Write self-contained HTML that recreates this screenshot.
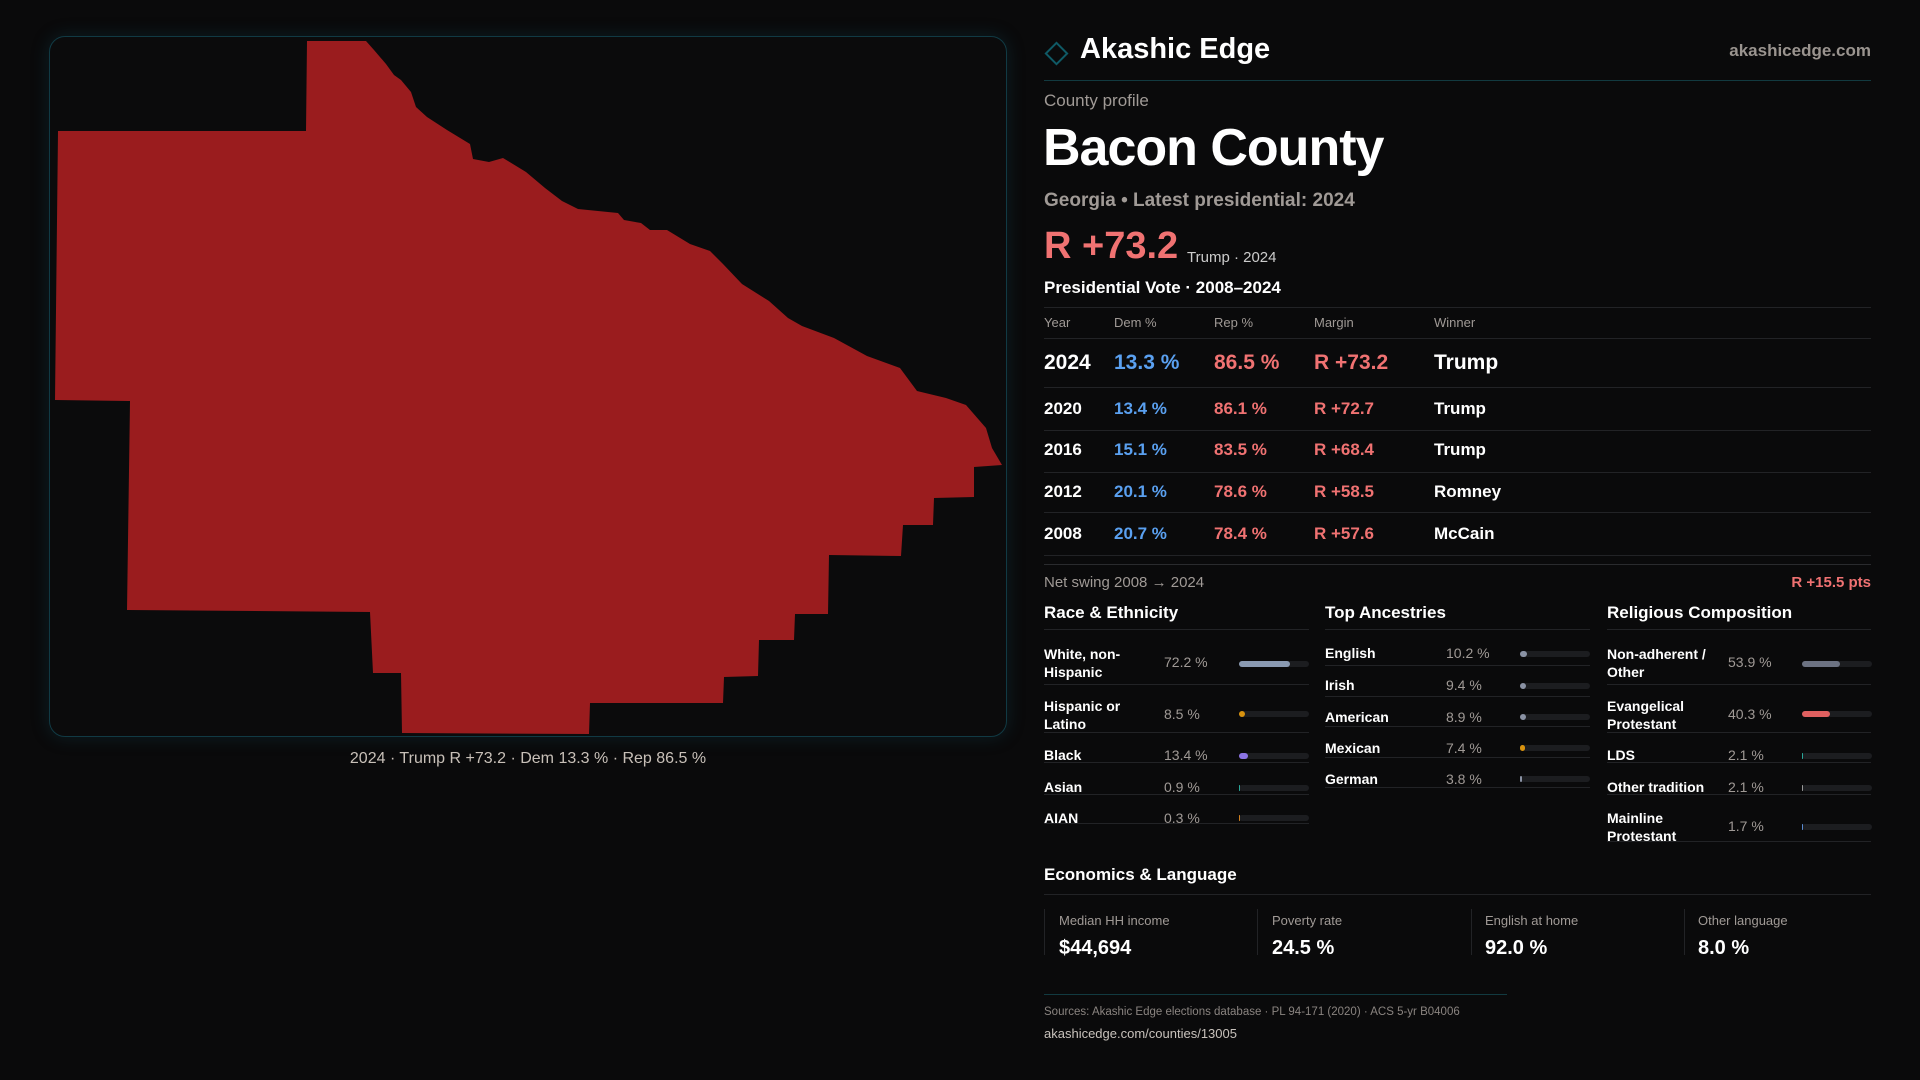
<!DOCTYPE html>
<html><head><meta charset="utf-8">
<style>
*{margin:0;padding:0;box-sizing:border-box}
body{width:1920px;height:1080px;background:#0a0a0b;font-family:"Liberation Sans",sans-serif;color:#fff;position:relative;overflow:hidden}
.a{position:absolute;white-space:nowrap;line-height:1}
.g{color:#a09a96}
.r{color:#f07272}
.b{color:#5aa0f0}
.hl{position:absolute;height:1px;background:#222326}
.bar{position:absolute;height:6px;border-radius:3px;background:#1c1d20;width:70px}
.bar i{position:absolute;left:0;top:0;height:6px;border-radius:3px;display:block}
</style></head><body>
<div style="position:absolute;left:49px;top:36px;width:958px;height:701px;border:1px solid #113a44;border-radius:16px;background:#0b0b0c;box-shadow:0 0 18px rgba(20,90,110,.25)"></div>
<svg style="position:absolute;left:0;top:0" width="1030" height="780">
<polygon fill="#9a1c1e" points="307,41 366,41 374,50 386,64 394,75 401,80 411,92 416,107 427,117 447,130 470,144 473,159 489,162 503,158 526,172 545,188 562,201 578,209 618,213 624,220 641,223 650,230 667,230 690,244 710,251 723,264 742,284 769,301 788,318 802,326 834,338 867,356 900,368 917,391 946,398 966,405 986,428 992,448 1002,465 974,467 974,497 934,498 933,525 903,525 901,556 829,555 828,614 795,614 794,640 759,640 758,676 724,677 723,703 590,703 589,734 402,733 401,673 373,673 370,612 127,610 130,401 55,400 58,131 306,131"/>
</svg>
<div class="a" style="left:0;width:1056px;text-align:center;top:751px;font-size:16px;color:#c8c0b8">2024 · Trump R +73.2 · Dem 13.3 % · Rep 86.5 %</div>

<div style="position:absolute;left:1048px;top:45px;width:17px;height:17px;border:2px solid #0f5a66;transform:rotate(45deg)"></div>
<div class="a" style="left:1080px;top:35px;font-size:29px;font-weight:bold">Akashic Edge</div>
<div class="a g" style="right:49px;top:42px;font-size:17px;font-weight:bold;color:#9a948f">akashicedge.com</div>
<div class="hl" style="left:1044px;width:827px;top:80px;background:#123a40"></div>
<div class="a g" style="left:1044px;top:92px;font-size:17px">County profile</div>
<div class="a" style="left:1043px;top:122px;font-size:52px;font-weight:bold;letter-spacing:-1px">Bacon County</div>
<div class="a g" style="left:1044px;top:191px;font-size:19px;font-weight:bold">Georgia • Latest presidential: 2024</div>
<div class="a r" style="left:1044px;top:227px;font-size:38px;font-weight:bold">R +73.2</div>
<div class="a" style="left:1187px;top:250px;font-size:15px;color:#ccc">Trump · 2024</div>
<div class="a" style="left:1044px;top:279px;font-size:17px;font-weight:bold">Presidential Vote · 2008–2024</div>
<div class="hl" style="left:1044px;width:827px;top:307px"></div>
<div class="a g" style="left:1044px;top:316px;font-size:13px">Year</div>
<div class="a g" style="left:1114px;top:316px;font-size:13px">Dem %</div>
<div class="a g" style="left:1214px;top:316px;font-size:13px">Rep %</div>
<div class="a g" style="left:1314px;top:316px;font-size:13px">Margin</div>
<div class="a g" style="left:1434px;top:316px;font-size:13px">Winner</div>
<div class="hl" style="left:1044px;width:827px;top:338px"></div>
<div class="a" style="left:1044px;top:352px;font-size:21px;font-weight:bold">2024</div>
<div class="a b" style="left:1114px;top:352px;font-size:21px;font-weight:bold">13.3 %</div>
<div class="a r" style="left:1214px;top:352px;font-size:21px;font-weight:bold">86.5 %</div>
<div class="a r" style="left:1314px;top:352px;font-size:21px;font-weight:bold">R +73.2</div>
<div class="a" style="left:1434px;top:352px;font-size:21px;font-weight:bold">Trump</div>
<div class="hl" style="left:1044px;width:827px;top:387px"></div>
<div class="a" style="left:1044px;top:400px;font-size:17px;font-weight:bold">2020</div>
<div class="a b" style="left:1114px;top:400px;font-size:17px;font-weight:bold">13.4 %</div>
<div class="a r" style="left:1214px;top:400px;font-size:17px;font-weight:bold">86.1 %</div>
<div class="a r" style="left:1314px;top:400px;font-size:17px;font-weight:bold">R +72.7</div>
<div class="a" style="left:1434px;top:400px;font-size:17px;font-weight:bold">Trump</div>
<div class="hl" style="left:1044px;width:827px;top:430px"></div>
<div class="a" style="left:1044px;top:441px;font-size:17px;font-weight:bold">2016</div>
<div class="a b" style="left:1114px;top:441px;font-size:17px;font-weight:bold">15.1 %</div>
<div class="a r" style="left:1214px;top:441px;font-size:17px;font-weight:bold">83.5 %</div>
<div class="a r" style="left:1314px;top:441px;font-size:17px;font-weight:bold">R +68.4</div>
<div class="a" style="left:1434px;top:441px;font-size:17px;font-weight:bold">Trump</div>
<div class="hl" style="left:1044px;width:827px;top:472px"></div>
<div class="a" style="left:1044px;top:483px;font-size:17px;font-weight:bold">2012</div>
<div class="a b" style="left:1114px;top:483px;font-size:17px;font-weight:bold">20.1 %</div>
<div class="a r" style="left:1214px;top:483px;font-size:17px;font-weight:bold">78.6 %</div>
<div class="a r" style="left:1314px;top:483px;font-size:17px;font-weight:bold">R +58.5</div>
<div class="a" style="left:1434px;top:483px;font-size:17px;font-weight:bold">Romney</div>
<div class="hl" style="left:1044px;width:827px;top:512px"></div>
<div class="a" style="left:1044px;top:525px;font-size:17px;font-weight:bold">2008</div>
<div class="a b" style="left:1114px;top:525px;font-size:17px;font-weight:bold">20.7 %</div>
<div class="a r" style="left:1214px;top:525px;font-size:17px;font-weight:bold">78.4 %</div>
<div class="a r" style="left:1314px;top:525px;font-size:17px;font-weight:bold">R +57.6</div>
<div class="a" style="left:1434px;top:525px;font-size:17px;font-weight:bold">McCain</div>
<div class="hl" style="left:1044px;width:827px;top:555px"></div>
<div class="hl" style="left:1044px;width:827px;top:564px;background:#2a2b2e"></div>
<div class="a g" style="left:1044px;top:575px;font-size:15px">Net swing 2008 → 2024</div>
<div class="a r" style="right:49px;top:575px;font-size:15px;font-weight:bold">R +15.5 pts</div>

<div class="a" style="left:1044px;top:604px;font-size:17px;font-weight:bold">Race &amp; Ethnicity</div>
<div class="a" style="left:1325px;top:604px;font-size:17px;font-weight:bold">Top Ancestries</div>
<div class="a" style="left:1607px;top:604px;font-size:17px;font-weight:bold">Religious Composition</div>
<div class="hl" style="left:1044px;width:265px;top:629px"></div>
<div class="hl" style="left:1325px;width:265px;top:629px"></div>
<div class="hl" style="left:1607px;width:264px;top:629px"></div>

<div class="a" style="left:1044px;top:645px;font-size:14px;line-height:18px;font-weight:bold">White, non-<br>Hispanic</div>
<div class="a g" style="left:1164px;top:655px;font-size:14px">72.2 %</div>
<div class="bar" style="left:1239px;top:661px"><i style="width:51px;background:#8a9ab2"></i></div>
<div class="hl" style="left:1044px;width:265px;top:684px"></div>
<div class="a" style="left:1044px;top:697px;font-size:14px;line-height:18px;font-weight:bold">Hispanic or<br>Latino</div>
<div class="a g" style="left:1164px;top:707px;font-size:14px">8.5 %</div>
<div class="bar" style="left:1239px;top:711px"><i style="width:6px;background:#d8920e"></i></div>
<div class="hl" style="left:1044px;width:265px;top:732px"></div>
<div class="a" style="left:1044px;top:748px;font-size:14px;font-weight:bold">Black</div>
<div class="a g" style="left:1164px;top:748px;font-size:14px">13.4 %</div>
<div class="bar" style="left:1239px;top:753px"><i style="width:9px;background:#8c74e4"></i></div>
<div class="hl" style="left:1044px;width:265px;top:762px"></div>
<div class="a" style="left:1044px;top:780px;font-size:14px;font-weight:bold">Asian</div>
<div class="a g" style="left:1164px;top:780px;font-size:14px">0.9 %</div>
<div class="bar" style="left:1239px;top:785px"><i style="width:1px;background:#2aa89a"></i></div>
<div class="hl" style="left:1044px;width:265px;top:794px"></div>
<div class="a" style="left:1044px;top:811px;font-size:14px;font-weight:bold">AIAN</div>
<div class="a g" style="left:1164px;top:811px;font-size:14px">0.3 %</div>
<div class="bar" style="left:1239px;top:815px"><i style="width:1px;background:#d08020"></i></div>
<div class="hl" style="left:1044px;width:265px;top:823px"></div>

<div class="a" style="left:1325px;top:646px;font-size:14px;font-weight:bold">English</div>
<div class="a g" style="left:1446px;top:646px;font-size:14px">10.2 %</div>
<div class="bar" style="left:1520px;top:651px"><i style="width:7px;background:#8a92a4"></i></div>
<div class="hl" style="left:1325px;width:265px;top:665px"></div>
<div class="a" style="left:1325px;top:678px;font-size:14px;font-weight:bold">Irish</div>
<div class="a g" style="left:1446px;top:678px;font-size:14px">9.4 %</div>
<div class="bar" style="left:1520px;top:683px"><i style="width:6px;background:#8a92a4"></i></div>
<div class="hl" style="left:1325px;width:265px;top:696px"></div>
<div class="a" style="left:1325px;top:710px;font-size:14px;font-weight:bold">American</div>
<div class="a g" style="left:1446px;top:710px;font-size:14px">8.9 %</div>
<div class="bar" style="left:1520px;top:714px"><i style="width:6px;background:#8a92a4"></i></div>
<div class="hl" style="left:1325px;width:265px;top:726px"></div>
<div class="a" style="left:1325px;top:741px;font-size:14px;font-weight:bold">Mexican</div>
<div class="a g" style="left:1446px;top:741px;font-size:14px">7.4 %</div>
<div class="bar" style="left:1520px;top:745px"><i style="width:5px;background:#d8920e"></i></div>
<div class="hl" style="left:1325px;width:265px;top:757px"></div>
<div class="a" style="left:1325px;top:772px;font-size:14px;font-weight:bold">German</div>
<div class="a g" style="left:1446px;top:772px;font-size:14px">3.8 %</div>
<div class="bar" style="left:1520px;top:776px"><i style="width:2px;background:#8a92a4"></i></div>
<div class="hl" style="left:1325px;width:265px;top:787px"></div>

<div class="a" style="left:1607px;top:645px;font-size:14px;line-height:18px;font-weight:bold">Non-adherent /<br>Other</div>
<div class="a g" style="left:1728px;top:655px;font-size:14px">53.9 %</div>
<div class="bar" style="left:1802px;top:661px"><i style="width:38px;background:#6c7282"></i></div>
<div class="hl" style="left:1607px;width:264px;top:684px"></div>
<div class="a" style="left:1607px;top:697px;font-size:14px;line-height:18px;font-weight:bold">Evangelical<br>Protestant</div>
<div class="a g" style="left:1728px;top:707px;font-size:14px">40.3 %</div>
<div class="bar" style="left:1802px;top:711px"><i style="width:28px;background:#e06060"></i></div>
<div class="hl" style="left:1607px;width:264px;top:732px"></div>
<div class="a" style="left:1607px;top:748px;font-size:14px;font-weight:bold">LDS</div>
<div class="a g" style="left:1728px;top:748px;font-size:14px">2.1 %</div>
<div class="bar" style="left:1802px;top:753px"><i style="width:1px;background:#2aa89a"></i></div>
<div class="hl" style="left:1607px;width:264px;top:762px"></div>
<div class="a" style="left:1607px;top:780px;font-size:14px;font-weight:bold">Other tradition</div>
<div class="a g" style="left:1728px;top:780px;font-size:14px">2.1 %</div>
<div class="bar" style="left:1802px;top:785px"><i style="width:1px;background:#999"></i></div>
<div class="hl" style="left:1607px;width:264px;top:794px"></div>
<div class="a" style="left:1607px;top:809px;font-size:14px;line-height:18px;font-weight:bold">Mainline<br>Protestant</div>
<div class="a g" style="left:1728px;top:819px;font-size:14px">1.7 %</div>
<div class="bar" style="left:1802px;top:824px"><i style="width:1px;background:#5a8ad0"></i></div>
<div class="hl" style="left:1607px;width:264px;top:841px"></div>

<div class="a" style="left:1044px;top:866px;font-size:17px;font-weight:bold">Economics &amp; Language</div>
<div class="hl" style="left:1044px;width:827px;top:894px"></div>
<div style="position:absolute;left:1044px;top:909px;width:1px;height:46px;background:#222326"></div>
<div style="position:absolute;left:1257px;top:909px;width:1px;height:46px;background:#222326"></div>
<div style="position:absolute;left:1471px;top:909px;width:1px;height:46px;background:#222326"></div>
<div style="position:absolute;left:1684px;top:909px;width:1px;height:46px;background:#222326"></div>
<div class="a g" style="left:1059px;top:914px;font-size:13px">Median HH income</div>
<div class="a g" style="left:1272px;top:914px;font-size:13px">Poverty rate</div>
<div class="a g" style="left:1485px;top:914px;font-size:13px">English at home</div>
<div class="a g" style="left:1698px;top:914px;font-size:13px">Other language</div>
<div class="a" style="left:1059px;top:938px;font-size:20px;font-weight:bold">$44,694</div>
<div class="a" style="left:1272px;top:938px;font-size:20px;font-weight:bold">24.5 %</div>
<div class="a" style="left:1485px;top:938px;font-size:20px;font-weight:bold">92.0 %</div>
<div class="a" style="left:1698px;top:938px;font-size:20px;font-weight:bold">8.0 %</div>

<div class="hl" style="left:1044px;width:463px;top:994px;background:#123a40"></div>
<div class="a g" style="left:1044px;top:1007px;font-size:11.5px;color:#8a8480">Sources: Akashic Edge elections database · PL 94-171 (2020) · ACS 5-yr B04006</div>
<div class="a" style="left:1044px;top:1027px;font-size:13px;color:#c8c2bc">akashicedge.com/counties/13005</div>
</body></html>
